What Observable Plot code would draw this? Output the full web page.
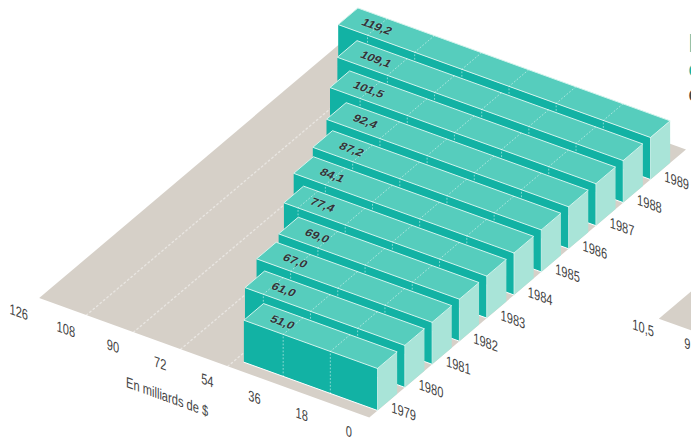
<!DOCTYPE html>
<html>
<head>
<meta charset="utf-8">
<script src="https://cdn.jsdelivr.net/npm/d3@7"></script>
<script src="https://cdn.jsdelivr.net/npm/@observablehq/plot@0.6"></script>
<style>
  html, body { margin: 0; padding: 0; background: #fff; overflow: hidden; }
</style>
</head>
<body>
<div id="chart"></div>
<script>
// Annual amounts, in billions of dollars
const years = [1979, 1980, 1981, 1982, 1983, 1984, 1985, 1986, 1987, 1988, 1989];
const amounts = [51.0, 61.0, 67.0, 69.0, 77.4, 84.1, 87.2, 92.4, 101.5, 109.1, 119.2];
const amountTicks = [0, 18, 36, 54, 72, 90, 108, 126];
const floorLines = [54, 72, 90, 108];
const axisTitle = "En milliards de $";

// Neighbouring panel, of which only the corner shows at the page edge
const nextPanelTicks = ["10,5", "9,"];
const nextPanelHeading = ["D", "C", "C"];

const colors = {
  top: "#56cdbd", front: "#12b2a4", side: "#a9e4d8",
  floor: "#d6d0c8", edge: "#d4f4ed", ink: "#444444", label: "#333338", heading: "#16b3a6"
};
const sans = "'Liberation Sans', Arial, sans-serif";

// Oblique projection: amount runs up-left, year runs up-right, height runs up
const project = ([amount, year, height = 0]) => ({
  x: 377 - 2.62 * amount + 27.3 * year,
  y: 410 - 0.947 * amount - 23.1 * year - height
});
const depth = 0.72;      // bar thickness along the year axis
const barHeight = 42;
const ANGLE_AXIS = 20;   // marker angle: text set in the vertical plane of an axis
const ANGLE_TOP = 21;    // marker angle: text lying flat on a bar top

// A closed polygon from corners in chart space
const polygon = (corners, options) => {
  const pts = [...corners, corners[0]].map(project);
  return Plot.line(pts, {x: "x", y: "y", curve: "linear", ...options});
};
const segment = (a, b, options) =>
  Plot.line([a, b].map(project), {x: "x", y: "y", ...options});

const dotted = {stroke: "#ffffff", strokeWidth: 1, strokeDasharray: "1,2.5", strokeOpacity: 0.5};
const floorDotted = {stroke: "#ffffff", strokeWidth: 1.4, strokeDasharray: "1.5,3", strokeOpacity: 0.45};

// One bar: end face, front face, top and the dotted graduations across them
function bar(amount, i) {
  const t0 = i, t1 = i + depth, h = barHeight;
  const ticks = amountTicks.filter(v => v > 0 && v < amount - 3);
  return [
    polygon([[0, t0, 0], [0, t1, 0], [0, t1, h], [0, t0, h]],
      {fill: colors.side, stroke: "none"}),
    polygon([[0, t0, 0], [amount, t0, 0], [amount, t0, h], [0, t0, h]],
      {fill: colors.front, stroke: "none"}),
    polygon([[0, t0, h], [amount, t0, h], [amount, t1, h], [0, t1, h]],
      {fill: colors.top, stroke: colors.edge, strokeWidth: 1}),
    segment([0, t0, 0], [amount, t0, 0], {stroke: "#ffffff", strokeWidth: 1}),
    segment([0, t0, 0], [0, t0, h], {stroke: colors.edge, strokeWidth: 0.8}),
    ...ticks.flatMap(v => [
      segment([v, t0, h], [v, t1, h], dotted),
      segment([v, t0, 0], [v, t0, h], dotted)
    ])
  ];
}

const frac = (v) => v.toFixed(1).replace(".", ",");

const marks = [
  // Floor of the main panel
  polygon([[0, -0.3], [126, -0.3], [126, 11.3], [0, 11.3]], {fill: colors.floor, stroke: "none"}),
  ...floorLines.map(v => segment([v, -0.3], [v, 11.3], floorDotted)),

  // Corner of the neighbouring panel, cut off by the page edge
  polygon([[-46.2, 5.87], [-110, 5.87], [-110, 9], [-46.2, 9]], {fill: colors.floor, stroke: "none"}),

  // Bars, painted from the back row forward
  ...amounts.map((a, i) => [a, i]).reverse().flatMap(([a, i]) => bar(a, i)),

  // Amounts printed on the bar tops
  Plot.text(amounts.map((a, i) => ({...project([a - 11, i + 0.36, barHeight]), text: frac(a)})), {
    x: "x", y: "y", text: "text", rotate: ANGLE_TOP,
    fontSize: 13, fontWeight: "bold", fontFamily: sans, fill: colors.label,
    stroke: "#9fe0d5", strokeWidth: 1.4, strokeOpacity: 0.4
  }),

  // Amount axis
  Plot.text(amountTicks.map(v => ({...project([v, -1.05, 3]), text: String(v)})), {
    x: "x", y: "y", text: "text", rotate: ANGLE_AXIS,
    fontSize: 15, fontFamily: sans, fill: colors.ink
  }),
  Plot.text([{...project([60.5, -1.9]), text: axisTitle}], {
    x: "x", y: "y", text: "text", rotate: ANGLE_AXIS,
    fontSize: 15, fontFamily: sans, fill: colors.ink
  }),

  // Year axis
  Plot.text(years.map((yr, i) => ({...project([-10, i, 8]), text: String(yr)})), {
    x: "x", y: "y", text: "text", rotate: ANGLE_AXIS,
    fontSize: 15, fontFamily: sans, fill: colors.ink
  }),

  // Axis labels of the neighbouring panel
  Plot.text(nextPanelTicks.map((t, i) => ({...project([-45 - 17.5 * i, 5.41]), text: t})), {
    x: "x", y: "y", text: "text", rotate: ANGLE_AXIS, textAnchor: "middle",
    fontSize: 15, fontFamily: sans, fill: colors.ink
  }),

  // Heading of the neighbouring panel, running off the page edge
  Plot.text(nextPanelHeading, {
    x: () => 688, y: (d, i) => [43, 70, 95][i], text: d => d, textAnchor: "start",
    fontSize: (d, i) => [26, 19, 19][i], fontWeight: "bold", fontFamily: sans,
    fill: (d, i) => (i < 2 ? colors.heading : colors.ink)
  })
];

const chart = Plot.plot({
  width: 691,
  height: 438,
  margin: 0,
  x: {type: "identity", axis: null},
  y: {type: "identity", axis: null},
  color: {type: "identity"},
  marks
});
chart.style.background = "#fff";

// Set the lettering into the oblique planes: condensed and sheared on the axes,
// laid flat on the bar tops
chart.querySelectorAll("text").forEach((node) => {
  const t = node.getAttribute("transform");
  if (!t) return;
  node.setAttribute("transform", t
    .replace(`rotate(${ANGLE_AXIS})`, "skewY(20) scale(0.74,1)")
    .replace(`rotate(${ANGLE_TOP})`, "matrix(0.9,0.33,-0.5,0.72,0,0)"));
});

document.getElementById("chart").append(chart);
</script>
</body>
</html>
